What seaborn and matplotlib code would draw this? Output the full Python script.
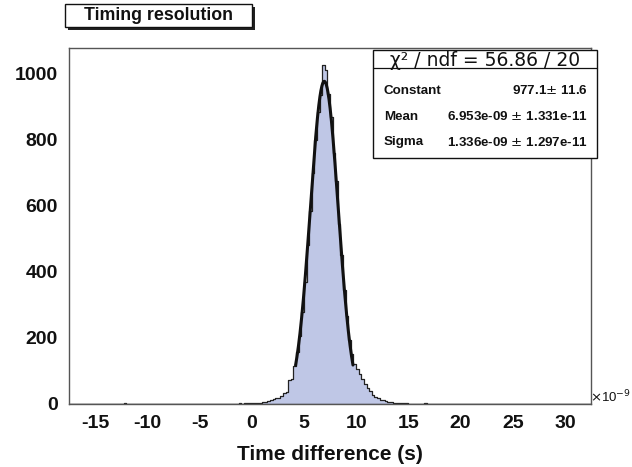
import numpy as np
import pandas as pd
import matplotlib
matplotlib.use("Agg")
import matplotlib.pyplot as plt
from matplotlib.patches import Rectangle
from matplotlib.ticker import MultipleLocator
import seaborn as sns

# Histogram layout (ns)
x_min, x_max, bin_width = -17.5, 32.5, 0.25

# Counts of the populated region, bins starting at 0.0 ns, 0.25 ns wide
core_start = 0.0
core_counts = [3, 3, 4, 4, 6, 7, 9, 11, 15, 18, 19, 25, 34, 36, 72, 75,
               115, 158, 205, 280, 370, 480, 585, 700, 800, 885, 935, 1028,
               1010, 940, 870, 760, 675, 545, 450, 345, 265, 195, 150, 120,
               105, 90, 75, 60, 48, 38, 28, 22, 17, 13, 11, 8, 6, 5, 4, 3,
               3, 2, 2, 2]

# Sparse entries in the tails (bin low edge, counts)
tail_edges = [-12.25, -4.25, -3.0, -2.5, -1.25, -1.0, -0.75, -0.5, -0.25,
              15.0, 15.5, 16.5, 17.5, 19.25, 21.25, 22.25, 30.25]
tail_counts = [2, 1, 1, 1, 2, 1, 2, 2, 2, 1, 1, 2, 1, 1, 1, 1, 1]

# Gaussian fit result (stat box)
fit_const, fit_mean, fit_sigma = 977.1, 6.953, 1.336
fit_range = (4.2, 9.7)

n_bins = int(round((x_max - x_min) / bin_width))
centers = x_min + bin_width * (np.arange(n_bins) + 0.5)
counts = np.zeros(n_bins)
i0 = int(round((core_start - x_min) / bin_width))
counts[i0:i0 + len(core_counts)] = core_counts
for e, c in zip(tail_edges, tail_counts):
    counts[int(round((e - x_min) / bin_width))] = c
df = pd.DataFrame({"t": centers, "n": counts})

xf = np.linspace(fit_range[0], fit_range[1], 300)
fit_df = pd.DataFrame({"t": xf,
                       "y": fit_const * np.exp(-0.5 * ((xf - fit_mean) / fit_sigma) ** 2)})

sns.set_style("white")
plt.rcParams['font.family'] = ['Liberation Sans', 'DejaVu Sans']
plt.rcParams['axes.unicode_minus'] = False

W, H = 632, 467
fig = plt.figure(figsize=(W / 100, H / 100), dpi=100)
ax = fig.add_axes([69 / W, 1 - 404 / H, (591 - 69) / W, (404 - 48) / H])

sns.histplot(data=df, x="t", weights="n", binwidth=bin_width, binrange=(x_min, x_max),
             element="step", fill=True, color="#bfc7e6", edgecolor="#222222",
             linewidth=0.9, alpha=1, ax=ax)
sns.lineplot(data=fit_df, x="t", y="y", color="#111111", linewidth=2.2, ax=ax)

ax.set_xlim(x_min, x_max)
ax.set_ylim(0, 1078)
ax.xaxis.set_major_locator(MultipleLocator(5))
ax.xaxis.set_minor_locator(MultipleLocator(1))
ax.yaxis.set_major_locator(MultipleLocator(200))
ax.yaxis.set_minor_locator(MultipleLocator(50))
ax.tick_params(which="both", direction="in", top=False, right=False, colors="#444444")
ax.tick_params(which="major", length=7, width=0.8, labelsize=14, pad=8)
ax.tick_params(which="minor", length=3.5, width=0.8)
for lab in ax.get_xticklabels() + ax.get_yticklabels():
    lab.set_fontweight("bold")
    lab.set_color("#111111")
for s in ax.spines.values():
    s.set_color("#555555")
    s.set_linewidth(1.0)
ax.set_xlabel("Time difference (s)", fontsize=15, fontweight="bold", color="#111111", labelpad=9)
ax.set_ylabel("")
ax.grid(False)

def fx(px):
    return px / W

def fy(py):
    return 1 - py / H

# x10^-9 exponent label
fig.text(fx(590), fy(397), r"$\times$10$^{-9}$", fontsize=9.5, ha="left", va="center", color="#111111")

# Title box with shadow
fig.add_artist(Rectangle((fx(68), fy(30)), (252 - 65) / W, 23 / H, transform=fig.transFigure,
                         facecolor="#222222", edgecolor="none", zorder=5))
fig.add_artist(Rectangle((fx(65), fy(27)), (252 - 65) / W, 23 / H, transform=fig.transFigure,
                         facecolor="white", edgecolor="#111111", linewidth=1.0, zorder=6))
fig.text(fx(158), fy(15.5), "Timing resolution", fontsize=12.8, fontweight="bold",
         ha="center", va="center", color="#111111", zorder=7)

# Stats box
fig.add_artist(Rectangle((fx(373), fy(158)), (597 - 373) / W, (158 - 50) / H, transform=fig.transFigure,
                         facecolor="white", edgecolor="#111111", linewidth=1.0, zorder=6))
fig.add_artist(plt.Line2D([fx(373), fx(597)], [fy(68), fy(68)], transform=fig.transFigure,
                          color="#111111", linewidth=0.9, zorder=7))
fig.text(fx(485), fy(65.5), "χ² / ndf = 56.86 / 20", fontsize=13.5, ha="center", va="baseline",
         color="#111111", zorder=8, family=["DejaVu Sans"])
rows = [("Constant", r"977.1$\pm$ 11.6"),
        ("Mean", r"6.953e-09 $\pm$ 1.331e-11"),
        ("Sigma", r"1.336e-09 $\pm$ 1.297e-11")]
for k, (name, val) in enumerate(rows):
    yy = 91 + k * 25.5
    fig.text(fx(384), fy(yy), name, fontsize=9.6, fontweight="bold", ha="left", va="center",
             color="#111111", zorder=8)
    fig.text(fx(588), fy(yy), val, fontsize=9.6, fontweight="bold", ha="right", va="center",
             color="#111111", zorder=8)

fig.savefig("out.png", dpi=100)
